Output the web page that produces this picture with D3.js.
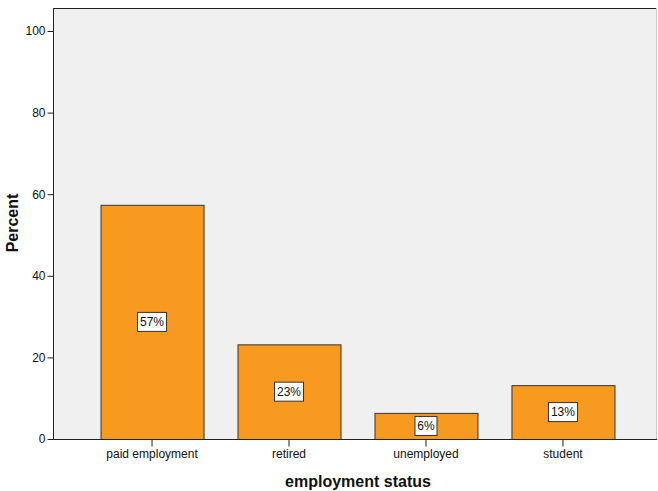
<!DOCTYPE html>
<html><head><meta charset="utf-8">
<script src="https://cdn.jsdelivr.net/npm/d3@7"></script>
<style>body{margin:0;background:#fff;} text{font-family:"Liberation Sans",Arial,sans-serif;}</style>
</head><body><svg id="c" width="658" height="491"></svg>
<script>
const categories = ["paid employment","retired","unemployed","student"];
const percents = [57.4, 23.2, 6.4, 13.2];
const labels = ["57%","23%","6%","13%"];
const yTicks = [0,20,40,60,80,100];

const svg = d3.select("#c");
const L=53, R=657, T=8, B=439;
const y = d3.scaleLinear().domain([0,100]).range([B,31]);
const x = d3.scaleBand().domain(categories).range([L, 662]).paddingInner(0.248).paddingOuter(0.347);

svg.append("rect").attr("x",L).attr("y",T).attr("width",R-L).attr("height",B-T).attr("fill","#f0f0f0");
svg.append("line").attr("x1",L).attr("x2",R).attr("y1",T+0.5).attr("y2",T+0.5).attr("stroke","#222");
svg.append("line").attr("x1",R-0.5).attr("x2",R-0.5).attr("y1",T).attr("y2",B).attr("stroke","#ccc");

svg.selectAll("rect.bar").data(categories).enter().append("rect").attr("class","bar")
  .attr("x",(d)=>x(d)+0.5).attr("width",x.bandwidth())
  .attr("y",(d,i)=>y(percents[i])+0.5).attr("height",(d,i)=>B-y(percents[i]))
  .attr("fill","#f89a1f").attr("stroke","#333").attr("stroke-width",1);

const yAxis = svg.append("g").attr("transform",`translate(${L+0.5},0)`)
  .call(d3.axisLeft(y).tickValues(yTicks).tickSize(6).tickPadding(2));
yAxis.select(".domain").attr("d",`M0,${T}V${B}`).attr("stroke","#222");
yAxis.selectAll("text").attr("font-size",12).attr("fill","#111").style("font-family","Liberation Sans, Arial, sans-serif");
yAxis.selectAll(".tick line").attr("stroke","#222");

const xAxis = svg.append("g").attr("transform",`translate(0,${B+0.5})`)
  .call(d3.axisBottom(x).tickSize(7).tickPadding(3).tickSizeOuter(0));
xAxis.select(".domain").attr("d",`M${L},0H${R}`).attr("stroke","#222");
xAxis.selectAll("text").attr("font-size",12).attr("fill","#111").style("font-family","Liberation Sans, Arial, sans-serif");
xAxis.selectAll(".tick line").attr("stroke","#222");

const lg = svg.selectAll("g.lab").data(categories).enter().append("g").attr("class","lab")
  .attr("transform",(d,i)=>`translate(${x(d)+x.bandwidth()/2},${y(percents[i]/2)})`);
lg.each(function(d,i){
  const g=d3.select(this);
  const w = labels[i].length*7+8;
  g.append("rect").attr("x",-w/2).attr("y",-9.5).attr("width",w).attr("height",19)
    .attr("fill","#fff").attr("stroke","#333");
  g.append("text").attr("text-anchor","middle").attr("dy","0.36em").attr("font-size",12).attr("fill","#111").text(labels[i]);
});

svg.append("text").attr("x",(L+R)/2+3).attr("y",487).attr("text-anchor","middle")
  .attr("font-size",16).attr("font-weight","bold").attr("fill","#111").text("employment status");
svg.append("text").attr("transform","translate(18,223) rotate(-90)").attr("text-anchor","middle")
  .attr("font-size",16).attr("font-weight","bold").attr("fill","#111").text("Percent");
</script></body></html>
